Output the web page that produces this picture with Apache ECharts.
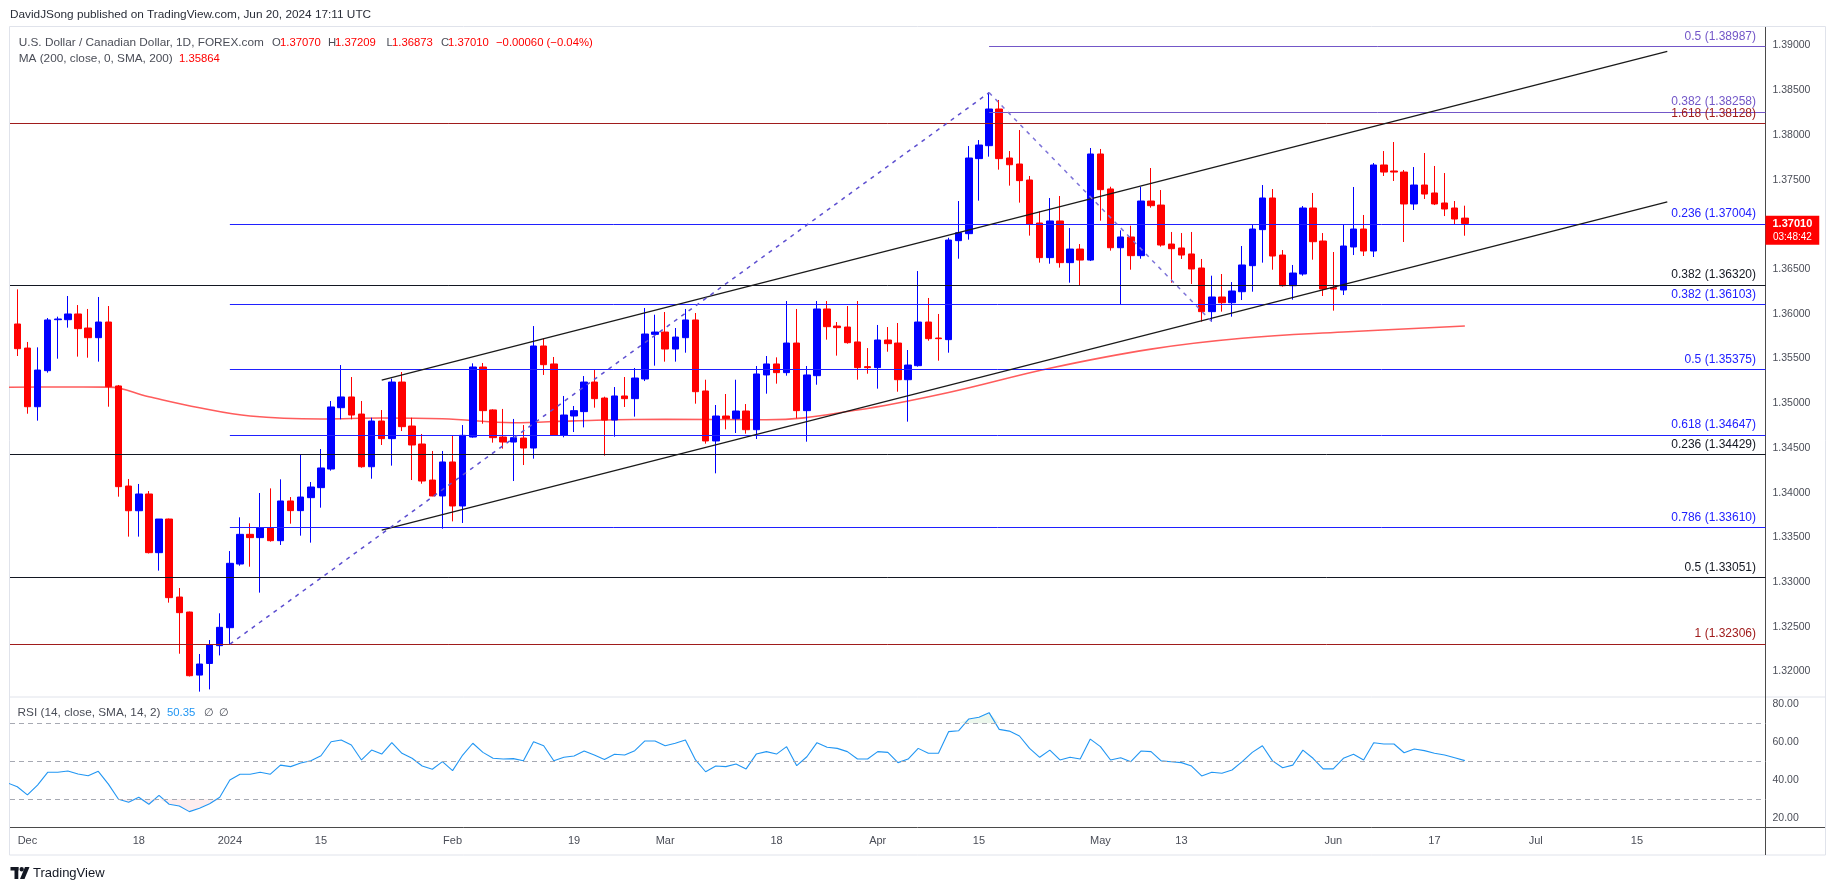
<!DOCTYPE html>
<html><head><meta charset="utf-8">
<script src="https://cdn.jsdelivr.net/npm/echarts@6/dist/echarts.min.js"></script>
<style>html,body{margin:0;padding:0;background:#fff}#c{width:1835px;height:891px}</style>
</head><body><div id="c"></div>
<script>
// ---- DATA (index 0 = Nov 30 2023, index 143 = Jun 20 2024) ----
const opens = [1.35886,1.35617,1.34961,1.35364,1.35934,1.35934,1.35998,1.35841,1.35733,1.35908,
1.35193,1.34074,1.33798,1.33985,1.33329,1.33705,1.32833,1.32665,1.31960,1.32090,
1.32289,1.32490,1.33202,1.33534,1.33497,1.33608,1.33463,1.33907,1.33799,1.33944,
1.34056,1.34264,1.34950,1.35070,1.34879,1.34290,1.34801,1.34604,1.35237,1.34745,
1.34544,1.34141,1.33963,1.34343,1.33851,1.34622,1.35405,1.34925,1.34622,1.34566,
1.34611,1.34499,1.35640,1.35439,1.34645,1.34857,1.34906,1.35237,1.35058,1.34812,
1.35081,1.35051,1.35271,1.35770,1.35796,1.35606,1.35733,1.35931,1.35137,1.34578,
1.34857,1.34827,1.34913,1.34704,1.35316,1.35439,1.35342,1.35673,1.34917,1.35308,
1.36054,1.35863,1.35852,1.35685,1.35409,1.35398,1.35707,1.35673,1.35263,1.35420,
1.35908,1.35729,1.35711,1.36818,1.36896,1.37735,1.37880,1.38290,1.37742,1.37675,
1.37496,1.37015,1.36628,1.37038,1.36572,1.36724,1.36601,1.37787,1.37396,1.36739,
1.36859,1.36650,1.37261,1.37216,1.36780,1.36736,1.36669,1.36512,1.36024,1.36188,
1.36124,1.36247,1.36538,1.36941,1.37295,1.36657,1.36314,1.36445,1.37183,1.36814,
1.36292,1.36266,1.36747,1.36948,1.36702,1.37664,1.37597,1.37585,1.37228,1.37440,
1.37351,1.37239,1.37183,1.37070];
const highs = [1.36273,1.35685,1.35625,1.35953,1.35968,1.36199,1.36098,1.36054,1.36188,1.36087,
1.35204,1.34153,1.34097,1.34018,1.33705,1.33710,1.32934,1.32670,1.32196,1.32352,
1.32651,1.33347,1.33724,1.33657,1.33996,1.34048,1.34149,1.33951,1.34428,1.34119,
1.34488,1.35025,1.35427,1.35293,1.35025,1.34838,1.34924,1.35275,1.35349,1.34838,
1.34656,1.34466,1.34466,1.34641,1.34756,1.35446,1.35450,1.34932,1.34936,1.34824,
1.34756,1.35863,1.35726,1.35517,1.35081,1.34969,1.35304,1.35371,1.35073,1.35181,
1.35293,1.35394,1.36065,1.35990,1.36020,1.35841,1.36054,1.36009,1.35263,1.34980,
1.35103,1.35263,1.34991,1.35416,1.35528,1.35513,1.36143,1.36054,1.35416,1.36143,
1.36143,1.35908,1.36087,1.36143,1.35617,1.35875,1.35852,1.35897,1.35595,1.36478,
1.36177,1.35998,1.36850,1.37261,1.37876,1.37943,1.38473,1.38391,1.37820,1.38055,
1.37541,1.37146,1.37295,1.37317,1.36959,1.36780,1.37854,1.37843,1.37421,1.36933,
1.36985,1.37418,1.37630,1.37384,1.36915,1.36903,1.36915,1.36613,1.36426,1.36445,
1.36355,1.36758,1.36993,1.37440,1.37395,1.36713,1.36546,1.37205,1.37351,1.36903,
1.36691,1.37000,1.37418,1.37105,1.37686,1.37820,1.37921,1.37608,1.37641,1.37798,
1.37653,1.37574,1.37261,1.37209];
const lows = [1.35528,1.34883,1.34805,1.35342,1.35498,1.35845,1.35521,1.35509,1.35465,1.34961,
1.33955,1.33508,1.33508,1.33320,1.33128,1.32770,1.32199,1.31945,1.31775,1.31800,
1.32180,1.32304,1.33183,1.33172,1.32882,1.33452,1.33415,1.33653,1.33519,1.33441,
1.33832,1.34246,1.34820,1.34820,1.34279,1.34156,1.34533,1.34302,1.34689,1.34141,
1.34100,1.33960,1.33597,1.33679,1.33661,1.34615,1.34771,1.34559,1.34492,1.34130,
1.34309,1.34380,1.35316,1.34640,1.34619,1.34678,1.34730,1.34950,1.34414,1.34626,
1.34958,1.34850,1.35248,1.35420,1.35465,1.35465,1.35565,1.34995,1.34548,1.34216,
1.34708,1.34667,1.34660,1.34600,1.35107,1.35219,1.35308,1.34831,1.34570,1.35207,
1.35711,1.35532,1.35666,1.35263,1.35330,1.35163,1.35576,1.35129,1.34794,1.35409,
1.35699,1.35476,1.35565,1.36616,1.36829,1.37265,1.37757,1.37612,1.37433,1.37243,
1.36874,1.36572,1.36560,1.36516,1.36348,1.36322,1.36590,1.37041,1.36706,1.36106,
1.36493,1.36616,1.37187,1.36751,1.36348,1.36613,1.36333,1.35912,1.35912,1.36024,
1.35968,1.36154,1.36247,1.36572,1.36493,1.36303,1.36158,1.36426,1.36605,1.36199,
1.36035,1.36210,1.36657,1.36646,1.36635,1.37541,1.37485,1.36803,1.37161,1.37284,
1.37216,1.37093,1.36993,1.36873];
const closes = [1.35610,1.34961,1.35371,1.35931,1.35942,1.35998,1.35834,1.35733,1.35908,1.35185,
1.34067,1.33798,1.33985,1.33329,1.33705,1.32826,1.32658,1.31953,1.32084,1.32296,
1.32494,1.33210,1.33534,1.33497,1.33608,1.33463,1.33907,1.33799,1.33951,1.34063,
1.34276,1.34958,1.35070,1.34868,1.34290,1.34801,1.34604,1.35237,1.34738,1.34533,
1.34130,1.33963,1.34343,1.33851,1.34641,1.35405,1.34917,1.34615,1.34566,1.34615,
1.34499,1.35640,1.35431,1.34645,1.34868,1.34917,1.35237,1.35051,1.34812,1.35081,
1.35051,1.35282,1.35774,1.35796,1.35606,1.35740,1.35931,1.35129,1.34578,1.34857,
1.34827,1.34913,1.34704,1.35327,1.35439,1.35342,1.35673,1.34917,1.35316,1.36054,
1.35856,1.35845,1.35677,1.35398,1.35398,1.35707,1.35666,1.35263,1.35427,1.35908,
1.35722,1.35722,1.36825,1.36907,1.37742,1.37887,1.38290,1.37735,1.37667,1.37489,
1.37004,1.36628,1.37038,1.36572,1.36724,1.36601,1.37787,1.37388,1.36739,1.36859,
1.36650,1.37261,1.37209,1.36769,1.36728,1.36657,1.36501,1.36024,1.36188,1.36124,
1.36255,1.36546,1.36948,1.37295,1.36646,1.36314,1.36456,1.37183,1.36806,1.36277,
1.36277,1.36758,1.36948,1.36702,1.37664,1.37585,1.37585,1.37228,1.37440,1.37339,
1.37228,1.37172,1.37060,1.37010];
// 200 SMA read at sample bars
const maIdx  = [-1, 4, 9, 13, 18, 23, 30, 36, 42, 49, 55, 64, 74, 83, 92, 102, 112, 121, 131, 143];
const maVals = [1.35178,1.35182,1.35180,1.35073,1.34950,1.34857,1.34824,1.34835,1.34827,1.34782,
1.34803,1.34820,1.34815,1.34924,1.35120,1.35391,1.35605,1.35726,1.35796,1.35864];
// RSI from index -1 to 143
const rsiVals = [38.7,36.6,32.3,37.5,44.2,44.2,44.9,43.3,42.4,44.7,38.0,
30.0,28.4,31.1,27.4,32.1,27.4,26.5,23.5,25.3,27.7,
31.1,40.2,43.2,43.2,44.2,43.2,48.0,47.2,49.1,50.3,
52.9,60.3,61.2,58.6,50.7,55.9,53.8,59.8,54.2,51.6,
47.5,45.8,49.8,45.1,53.3,59.5,54.7,51.6,51.2,51.4,
50.3,60.3,58.2,50.3,52.1,52.8,55.4,53.3,51.0,53.7,
53.3,55.6,60.7,60.7,58.2,59.5,61.2,50.7,44.5,47.5,
47.2,48.6,46.0,53.8,55.1,53.8,57.7,47.7,52.4,59.8,
57.4,56.8,55.1,51.2,51.2,55.1,54.7,49.3,51.2,56.8,
54.2,54.2,65.6,66.1,72.3,73.2,75.6,66.8,65.9,63.3,
56.8,52.1,55.9,50.7,52.1,51.2,61.7,57.7,50.7,51.9,
49.8,55.4,55.1,50.2,49.8,49.3,47.5,42.3,44.2,43.7,
45.4,49.8,54.7,58.2,50.2,46.6,48.0,55.9,51.6,46.0,
46.0,51.6,53.7,50.7,59.8,59.1,59.1,54.5,56.5,55.6,
54.2,53.3,51.9,50.35];
const dateTickIdx    = [1, 12, 21, 30, 43, 55, 64, 75, 85, 95, 107, 115, 130, 140, 150, 160];
const dateTickLabels = ['Dec','18','2024','15','Feb','19','Mar','18','Apr','15','May','13','Jun','17','Jul','15'];
const priceTicks = [1.32,1.325,1.33,1.335,1.34,1.345,1.35,1.355,1.36,1.365,1.37,1.375,1.38,1.385,1.39];
const rsiTicks = [20, 40, 60, 80];
const rsiBands = [70, 50, 30];
const blackFibRatios = ['0.382','0.236','0.5'];
const blackFibValues = [1.36320, 1.34429, 1.33051];
const redFibRatios = ['1.618','1'];
const redFibValues = [1.38128, 1.32306];
const blueFibRatios = ['0.236','0.382','0.5','0.618','0.786'];
const blueFibValues = [1.37004, 1.36103, 1.35375, 1.34647, 1.33610];
const purpleFibRatios = ['0.382','0.5'];
const purpleFibValues = [1.38258, 1.38987];
const blueFibStart = 21, purpleFibStart = 96;
const channelUpper = [[36, 1.35257], [163, 1.38935]];
const channelLower = [[36, 1.33582], [163, 1.37252]];
const swingUp = [[21, 1.32306], [96, 1.38473]];
const swingDown = [[96, 1.38473], [118, 1.35912]];
const countdown = '03:48:42';

// ---- CHART ----
const FONT = 'Liberation Sans';
const X_MIN = -0.72, X_MAX = 172.7;
const C_BLUE = '#0000ff', C_RED = '#ff0000';
const chart = echarts.init(document.getElementById('c'), null, {width:1835, height:891});
const candleData = opens.map((o,i)=>[i, o, closes[i], lows[i], highs[i]]);
const maData = maIdx.map((x,k)=>[x, maVals[k]]);
const rsiData = rsiVals.map((v,k)=>[k-1, v]);
const rsiOS = rsiVals.map((v,k)=>[k-1, Math.min(v, 30)]);
const rsiOB = rsiVals.map((v,k)=>[k-1, Math.max(v, 70)]);

function fibItems(ratios, values, start, color) {
  return ratios.map((r,k)=>[
    {coord:[start, values[k]], lineStyle:{color, width:1, type:'solid'},
     label:{show:true, position:'insideEndTop', distance:[9.5,4], formatter: r + ' (' + values[k].toFixed(5) + ')',
            color, fontSize:12, fontFamily:FONT}},
    {coord:[X_MAX, values[k]]}
  ]);
}
function seg(pts, style) {
  return [{coord:pts[0], lineStyle:style, label:{show:false}}, {coord:pts[1]}];
}
const lastClose = closes[closes.length-1];
const markData = [].concat(
  fibItems(blackFibRatios, blackFibValues, X_MIN, '#131722'),
  fibItems(redFibRatios, redFibValues, X_MIN, '#a01c1c'),
  fibItems(blueFibRatios, blueFibValues, blueFibStart, '#2020ff'),
  fibItems(purpleFibRatios, purpleFibValues, purpleFibStart, '#7357c8'),
  [seg(channelUpper, {color:'#1a1a1a', width:1.3, type:'solid'}),
   seg(channelLower, {color:'#1a1a1a', width:1.3, type:'solid'}),
   seg(swingUp, {color:'#5d4fd0', width:1.5, type:[4,5]}),
   seg(swingDown, {color:'#7d73d8', width:1.5, type:[4,5]})]
);
// last price tag (separate markLine so its line can be fully transparent)
const lastPriceMark = {symbol:['none','none'], silent:true, animation:false,
  data:[{yAxis:lastClose, lineStyle:{color:'rgba(0,0,0,0)', width:1},
    label:{show:true, position:'end', distance:0, offset:[0,6],
      formatter:'{a|' + lastClose.toFixed(5) + '}\n{b|' + countdown + '}',
      backgroundColor:C_RED, padding:[2,7,2,7],
      rich:{a:{color:'#fff', fontWeight:'bold', fontSize:11, lineHeight:13, fontFamily:FONT, align:'center'},
            b:{color:'#fff', fontSize:10, lineHeight:12, fontFamily:FONT, align:'center'}}}}]};

function txt(x, y, text, color, size, extra) {
  return Object.assign({type:'text', x, y, silent:true, z:10,
    style:{text, fill:color, fontSize:size, fontFamily:FONT, verticalAlign:'middle', align:'left'}}, extra||{});
}
const GRAY = '#4a4d57';
const graphics = [
  {type:'rect', shape:{x:9.5, y:26.5, width:1816, height:828.5}, style:{fill:'none', stroke:'#e0e3eb', lineWidth:1}, silent:true},
  {type:'line', shape:{x1:10, y1:697, x2:1825, y2:697}, style:{stroke:'#e0e3eb', lineWidth:1}, silent:true},
  {type:'line', shape:{x1:1765.5, y1:27, x2:1765.5, y2:855}, style:{stroke:'#4a4a4a', lineWidth:1}, silent:true},
  {type:'line', shape:{x1:10, y1:827.5, x2:1825, y2:827.5}, style:{stroke:'#4a4a4a', lineWidth:1}, silent:true},
  txt(10, 15, 'DavidJSong published on TradingView.com, Jun 20, 2024 17:11 UTC', '#2a2e39', 11.8),
  txt(18.7, 42.5, 'U.S. Dollar / Canadian Dollar, 1D, FOREX.com', GRAY, 11.8),
  txt(272, 42.5, 'O', GRAY, 11.3), txt(280, 42.5, '1.37070', C_RED, 11.3),
  txt(328, 42.5, 'H', GRAY, 11.3), txt(335, 42.5, '1.37209', C_RED, 11.3),
  txt(386.5, 42.5, 'L', GRAY, 11.3), txt(392, 42.5, '1.36873', C_RED, 11.3),
  txt(441, 42.5, 'C', GRAY, 11.3), txt(448, 42.5, '1.37010', C_RED, 11.3),
  txt(496, 42.5, '\u22120.00060 (\u22120.04%)', C_RED, 11.3),
  txt(18.7, 58.5, 'MA (200, close, 0, SMA, 200)', GRAY, 11.8), txt(179, 58.5, '1.35864', C_RED, 11.3),
  txt(17.6, 713, 'RSI (14, close, SMA, 14, 2)', GRAY, 11.8), txt(167, 713, '50.35', '#2196f3', 11.3),
  txt(204, 713, '\u2205', GRAY, 11.3), txt(219, 713, '\u2205', GRAY, 11.3),
  {type:'rect', shape:{x:10.5, y:867, width:8, height:3.5}, style:{fill:'#131722'}, silent:true},
  {type:'rect', shape:{x:14.5, y:867, width:3.8, height:12}, style:{fill:'#131722'}, silent:true},
  {type:'circle', shape:{cx:21.7, cy:869.2, r:2.2}, style:{fill:'#131722'}, silent:true},
  {type:'polygon', shape:{points:[[25,867],[29.5,867],[24.5,879],[20,879]]}, style:{fill:'#131722'}, silent:true},
  txt(33, 873.5, 'TradingView', '#131722', 13)
];

chart.setOption({
  animation:false,
  backgroundColor:'#ffffff',
  grid:[{left:10, right:69.5, top:27, height:670}, {left:10, right:69.5, top:697, height:130.7}],
  xAxis:[
    {type:'value', gridIndex:0, min:X_MIN, max:X_MAX, show:false},
    {type:'value', gridIndex:1, min:X_MIN, max:X_MAX,
     axisLine:{show:false}, axisTick:{show:false}, splitLine:{show:false},
     axisLabel:{customValues:dateTickIdx, formatter:v=>dateTickLabels[dateTickIdx.indexOf(Math.round(v))] || '',
                color:GRAY, fontSize:11, fontFamily:FONT, margin:8}}
  ],
  yAxis:[
    {type:'value', gridIndex:0, position:'right', min:1.31715, max:1.39207, scale:true,
     axisLine:{show:false}, axisTick:{show:false}, splitLine:{show:false},
     axisLabel:{customValues:priceTicks, formatter:v=>v.toFixed(5), color:GRAY, fontSize:10.5, fontFamily:FONT, margin:7}},
    {type:'value', gridIndex:1, position:'right', min:15.05, max:83.84,
     axisLine:{show:false}, axisTick:{show:false}, splitLine:{show:false},
     axisLabel:{customValues:rsiTicks, formatter:v=>v.toFixed(2), color:GRAY, fontSize:10.5, fontFamily:FONT, margin:7}}
  ],
  series:[
    {type:'line', name:'MA', xAxisIndex:0, yAxisIndex:0, data:maData, showSymbol:false, smooth:0.4,
     lineStyle:{color:'#ff4040', width:1.6, opacity:0.85}, z:2},
    {type:'candlestick', name:'USDCAD', xAxisIndex:0, yAxisIndex:0, data:candleData, barWidth:7,
     encode:{x:0, y:[1,2,3,4]},
     itemStyle:{color:C_BLUE, color0:C_RED, borderColor:C_BLUE, borderColor0:C_RED, borderWidth:1},
     markLine:{symbol:['none','none'], silent:true, animation:false, data:markData}, z:3},
    {type:'line', name:'lastPrice', xAxisIndex:0, yAxisIndex:0, data:[[143, lastClose]], showSymbol:false,
     lineStyle:{opacity:0}, markLine:lastPriceMark, z:6},
    {type:'line', name:'osFill', xAxisIndex:1, yAxisIndex:1, data:rsiOS, showSymbol:false,
     lineStyle:{width:0, opacity:0}, areaStyle:{origin:30, color:'rgba(242,54,69,0.13)'}, z:1},
    {type:'line', name:'obFill', xAxisIndex:1, yAxisIndex:1, data:rsiOB, showSymbol:false,
     lineStyle:{width:0, opacity:0}, areaStyle:{origin:70, color:'rgba(76,175,80,0.15)'}, z:1},
    {type:'line', name:'RSI', xAxisIndex:1, yAxisIndex:1, data:rsiData, showSymbol:false,
     lineStyle:{color:'#2196f3', width:1.1}, z:3,
     markLine:{symbol:['none','none'], silent:true, label:{show:false},
       lineStyle:{color:'#a6a9b2', type:[5,4], width:1}, data:rsiBands.map(v=>({yAxis:v}))}}
  ],
  graphic:graphics
});
</script>
</body></html>
